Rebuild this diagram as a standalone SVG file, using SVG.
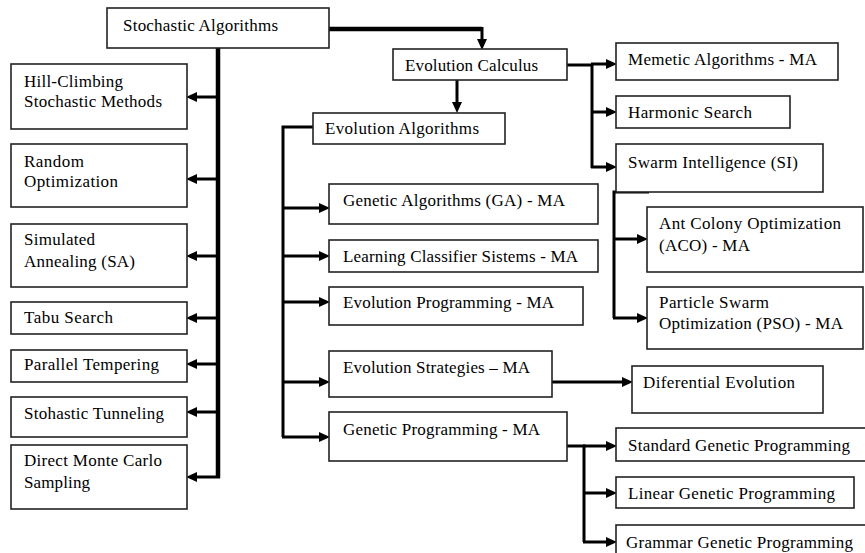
<svg xmlns="http://www.w3.org/2000/svg" width="865" height="553" viewBox="0 0 865 553">
<defs>
<marker id="ah" markerUnits="userSpaceOnUse" markerWidth="12" markerHeight="12" refX="4" refY="5" orient="auto">
<path d="M0,0 L11,5 L0,10 z" fill="#000"/>
</marker>
<style>
.box{fill:#fff;stroke:#222;stroke-width:1.6}
.lbl{font-family:'Liberation Serif','Times New Roman',serif;font-size:17px;fill:#000}
.c{fill:none;stroke:#000;stroke-width:3}
.t{fill:none;stroke:#000;stroke-width:4.5}
.a{fill:none;stroke:#000;stroke-width:3;marker-end:url(#ah)}
</style>
</defs>
<rect width="865" height="553" fill="#fff"/>

<g id="connectors">
<path class="t" d="M218,48 V478"/>
<path class="a" d="M218,97 H193"/>
<path class="a" d="M218,179 H193"/>
<path class="a" d="M218,256 H193"/>
<path class="a" d="M218,318 H193"/>
<path class="a" d="M218,364 H193"/>
<path class="a" d="M218,412 H193"/>
<path class="a" d="M220,477 H193"/>
<path class="t" d="M329,29 H482"/>
<path class="a" d="M482,27 V43"/>
<path class="a" d="M457,80 V106"/>
<path class="c" d="M313,127 H283 V437"/>
<path class="a" d="M282,208 H323"/>
<path class="a" d="M282,256 H323"/>
<path class="a" d="M282,302 H323"/>
<path class="a" d="M282,382 H323"/>
<path class="a" d="M282,437 H323"/>
<path class="c" d="M567,65 H592"/>
<path class="c" d="M592,64 V168"/>
<path class="a" d="M591,64 H610"/>
<path class="a" d="M591,112 H610"/>
<path class="a" d="M591,167 H610"/>
<path class="c" d="M649,192 H614 V318"/>
<path class="a" d="M613,239 H641"/>
<path class="a" d="M613,318 H641"/>
<path class="a" d="M552,382 H626"/>
<path class="c" d="M567,446 H584 V542"/>
<path class="a" d="M583,446 H610"/>
<path class="a" d="M583,493 H610"/>
<path class="a" d="M583,542 H610"/>
</g>

<g id="stochastic-algorithms"><rect class="box" x="107" y="8" width="222" height="40"/><text class="lbl" x="123" y="31" textLength="155" lengthAdjust="spacing">Stochastic Algorithms</text></g>

<g id="hill-climbing"><rect class="box" x="11" y="64" width="176" height="65"/><text class="lbl" x="24" y="87" textLength="99" lengthAdjust="spacing">Hill-Climbing</text><text class="lbl" x="24" y="107" textLength="138" lengthAdjust="spacing">Stochastic Methods</text></g>
<g id="random-optimization"><rect class="box" x="11" y="144" width="176" height="63"/><text class="lbl" x="24" y="167" textLength="60" lengthAdjust="spacing">Random</text><text class="lbl" x="24" y="187" textLength="94" lengthAdjust="spacing">Optimization</text></g>
<g id="simulated-annealing"><rect class="box" x="11" y="224" width="176" height="63"/><text class="lbl" x="24" y="245" textLength="71" lengthAdjust="spacing">Simulated</text><text class="lbl" x="24" y="267" textLength="111" lengthAdjust="spacing">Annealing (SA)</text></g>
<g id="tabu-search"><rect class="box" x="11" y="302" width="176" height="32"/><text class="lbl" x="24" y="323" textLength="89" lengthAdjust="spacing">Tabu Search</text></g>
<g id="parallel-tempering"><rect class="box" x="11" y="350" width="176" height="32"/><text class="lbl" x="24" y="370" textLength="135" lengthAdjust="spacing">Parallel Tempering</text></g>
<g id="stohastic-tunneling"><rect class="box" x="11" y="397" width="176" height="40"/><text class="lbl" x="24" y="419" textLength="140" lengthAdjust="spacing">Stohastic Tunneling</text></g>
<g id="direct-monte-carlo"><rect class="box" x="11" y="445" width="176" height="64"/><text class="lbl" x="24" y="466" textLength="138" lengthAdjust="spacing">Direct Monte Carlo</text><text class="lbl" x="24" y="488" textLength="66" lengthAdjust="spacing">Sampling</text></g>

<g id="evolution-calculus"><rect class="box" x="393" y="49" width="174" height="31"/><text class="lbl" x="405" y="71" textLength="133" lengthAdjust="spacing">Evolution Calculus</text></g>
<g id="evolution-algorithms"><rect class="box" x="313" y="113" width="192" height="31"/><text class="lbl" x="325" y="134" textLength="154" lengthAdjust="spacing">Evolution Algorithms</text></g>

<g id="genetic-algorithms"><rect class="box" x="329" y="184" width="269" height="40"/><text class="lbl" x="343" y="206" textLength="222" lengthAdjust="spacing">Genetic Algorithms (GA) - MA</text></g>
<g id="learning-classifier"><rect class="box" x="329" y="240" width="269" height="32"/><text class="lbl" x="343" y="262" textLength="235" lengthAdjust="spacing">Learning Classifier Sistems - MA</text></g>
<g id="evolution-programming"><rect class="box" x="329" y="287" width="254" height="38"/><text class="lbl" x="343" y="308" textLength="211" lengthAdjust="spacing">Evolution Programming - MA</text></g>
<g id="evolution-strategies"><rect class="box" x="329" y="351" width="223" height="46"/><text class="lbl" x="343" y="373" textLength="187" lengthAdjust="spacing">Evolution Strategies – MA</text></g>
<g id="genetic-programming"><rect class="box" x="329" y="412" width="238" height="49"/><text class="lbl" x="343" y="435" textLength="197" lengthAdjust="spacing">Genetic Programming - MA</text></g>

<g id="memetic-algorithms"><rect class="box" x="616" y="43" width="222" height="37"/><text class="lbl" x="628" y="65" textLength="189" lengthAdjust="spacing">Memetic Algorithms - MA</text></g>
<g id="harmonic-search"><rect class="box" x="616" y="96" width="174" height="32"/><text class="lbl" x="628" y="118" textLength="124" lengthAdjust="spacing">Harmonic Search</text></g>
<g id="swarm-intelligence"><rect class="box" x="616" y="144" width="207" height="48"/><text class="lbl" x="628" y="168" textLength="170" lengthAdjust="spacing">Swarm Intelligence (SI)</text></g>
<g id="aco"><rect class="box" x="647" y="207" width="216" height="65"/><text class="lbl" x="659" y="229" textLength="182" lengthAdjust="spacing">Ant Colony Optimization</text><text class="lbl" x="659" y="251" textLength="91" lengthAdjust="spacing">(ACO) - MA</text></g>
<g id="pso"><rect class="box" x="647" y="287" width="216" height="62"/><text class="lbl" x="659" y="308" textLength="110" lengthAdjust="spacing">Particle Swarm</text><text class="lbl" x="659" y="329" textLength="184" lengthAdjust="spacing">Optimization (PSO) - MA</text></g>
<g id="differential-evolution"><rect class="box" x="632" y="366" width="191" height="47"/><text class="lbl" x="643" y="388" textLength="152" lengthAdjust="spacing">Diferential Evolution</text></g>
<g id="standard-gp"><rect class="box" x="616" y="428" width="252" height="33"/><text class="lbl" x="628" y="451" textLength="222" lengthAdjust="spacing">Standard Genetic Programming</text></g>
<g id="linear-gp"><rect class="box" x="616" y="477" width="238" height="31"/><text class="lbl" x="628" y="499" textLength="207" lengthAdjust="spacing">Linear Genetic Programming</text></g>
<g id="grammar-gp"><rect class="box" x="616" y="525" width="252" height="34"/><text class="lbl" x="626" y="548" textLength="227" lengthAdjust="spacing">Grammar Genetic Programming</text></g>
</svg>
